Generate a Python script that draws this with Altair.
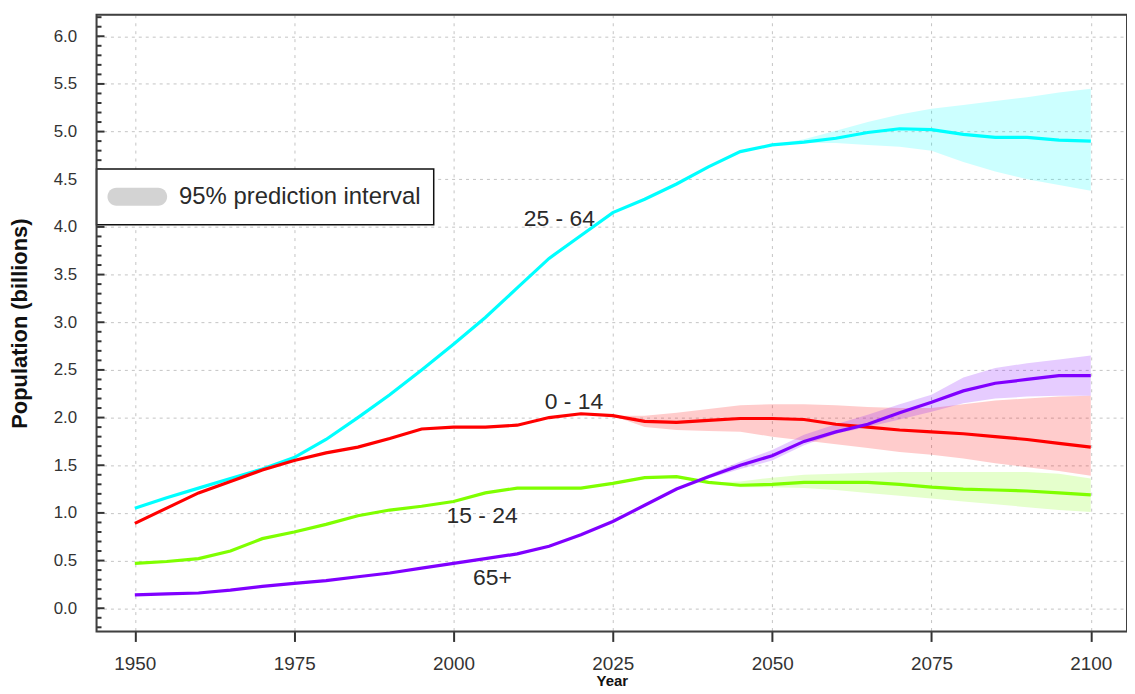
import altair as alt
import pandas as pd

# ---- data (billions) ----
years = list(range(1950, 2101, 5))

pop_25_64 = [1.05, 1.16, 1.26, 1.36, 1.46, 1.58, 1.77, 2.00, 2.24, 2.50,
             2.77, 3.05, 3.36, 3.67, 3.91, 4.15, 4.29, 4.45, 4.63, 4.79,
             4.86, 4.89, 4.93, 4.99, 5.03, 5.02, 4.97, 4.94, 4.94, 4.91, 4.90]
pop_0_14 = [0.89, 1.05, 1.21, 1.33, 1.45, 1.55, 1.63, 1.69, 1.78, 1.88,
            1.90, 1.90, 1.92, 2.00, 2.04, 2.02, 1.96, 1.95, 1.97, 1.99,
            1.99, 1.98, 1.93, 1.90, 1.87, 1.85, 1.83, 1.80, 1.77, 1.73, 1.69]
pop_15_24 = [0.47, 0.49, 0.52, 0.60, 0.73, 0.80, 0.88, 0.97, 1.03, 1.07,
             1.12, 1.21, 1.26, 1.26, 1.26, 1.31, 1.37, 1.38, 1.32, 1.29,
             1.30, 1.32, 1.32, 1.32, 1.30, 1.27, 1.25, 1.24, 1.23, 1.21, 1.19]
pop_65 = [0.14, 0.15, 0.16, 0.19, 0.23, 0.26, 0.29, 0.33, 0.37, 0.42,
          0.47, 0.52, 0.57, 0.65, 0.77, 0.91, 1.08, 1.25, 1.38, 1.50,
          1.60, 1.75, 1.85, 1.93, 2.05, 2.16, 2.28, 2.36, 2.40, 2.44, 2.44]

# 95% prediction intervals
band_25_64_years = list(range(2050, 2101, 5))
band_25_64_hi = [4.86, 4.92, 5.01, 5.10, 5.18, 5.24, 5.28, 5.32, 5.36, 5.41, 5.45]
band_25_64_lo = [4.86, 4.88, 4.88, 4.86, 4.84, 4.80, 4.68, 4.58, 4.50, 4.44, 4.38]

band_0_14_years = list(range(2025, 2101, 5))
band_0_14_hi = [2.02, 2.02, 2.05, 2.09, 2.13, 2.14, 2.14, 2.13, 2.11, 2.10, 2.10, 2.14, 2.18, 2.20, 2.22, 2.23]
band_0_14_lo = [2.02, 1.90, 1.87, 1.86, 1.85, 1.80, 1.76, 1.72, 1.68, 1.64, 1.61, 1.57, 1.52, 1.48, 1.44, 1.39]

band_15_24_years = list(range(2040, 2101, 5))
band_15_24_hi = [1.32, 1.33, 1.37, 1.40, 1.41, 1.42, 1.43, 1.43, 1.43, 1.43, 1.43, 1.41, 1.36]
band_15_24_lo = [1.32, 1.27, 1.27, 1.26, 1.24, 1.21, 1.18, 1.15, 1.12, 1.09, 1.06, 1.03, 1.01]

band_65_years = list(range(2035, 2101, 5))
band_65_hi = [1.25, 1.40, 1.54, 1.66, 1.82, 1.93, 2.03, 2.14, 2.24, 2.42, 2.52, 2.57, 2.61, 2.65]
band_65_lo = [1.25, 1.36, 1.46, 1.55, 1.71, 1.83, 1.90, 1.98, 2.06, 2.15, 2.20, 2.22, 2.23, 2.23]

groups = ["25 - 64", "0 - 14", "15 - 24", "65+"]
colors = ["#00FFFF", "#FF0000", "#7FFF00", "#8000FF"]

label_text = ["25 - 64", "0 - 14", "15 - 24", "65+"]
label_year = [2016.6, 2018.9, 2004.5, 2006.1]
label_value = [4.08, 2.16, 0.97, 0.32]

x_ticks = [1950, 1975, 2000, 2025, 2050, 2075, 2100]
y_ticks = [0.0, 0.5, 1.0, 1.5, 2.0, 2.5, 3.0, 3.5, 4.0, 4.5, 5.0, 5.5, 6.0]
y_minor = [round(-0.2 + 0.1 * i, 1) for i in range(65)]

# ---- tables ----
lines_df = pd.concat([
    pd.DataFrame({"year": years, "value": vals, "group": g})
    for g, vals in zip(groups, [pop_25_64, pop_0_14, pop_15_24, pop_65])
])
bands_df = pd.concat([
    pd.DataFrame({"year": yrs, "lo": lo, "hi": hi, "group": g})
    for g, yrs, lo, hi in [
        ("25 - 64", band_25_64_years, band_25_64_lo, band_25_64_hi),
        ("0 - 14", band_0_14_years, band_0_14_lo, band_0_14_hi),
        ("15 - 24", band_15_24_years, band_15_24_lo, band_15_24_hi),
        ("65+", band_65_years, band_65_lo, band_65_hi),
    ]
])
labels_df = pd.DataFrame({"year": label_year, "value": label_value, "text": label_text})
minor_df = pd.DataFrame({"t": [v for v in y_minor if round(v * 10) % 5 != 0]})
major_df = pd.DataFrame({"t": [v for v in y_minor if round(v * 10) % 5 == 0]})
one = pd.DataFrame({"a": [0]})

W, H = 1036, 620
xscale = alt.Scale(domain=[1943.99, 2105.68], nice=False, zero=False)
yscale = alt.Scale(domain=[-0.244, 6.225], nice=False, zero=False)
cscale = alt.Scale(domain=groups, range=colors)

tick_font = "Liberation Sans Narrow, Liberation Sans, Arial, sans-serif"
xaxis = alt.Axis(values=x_ticks, format="d", title="Year", grid=True,
                 gridDash=[3, 5], gridColor="#c4c4c4", gridWidth=1,
                 ticks=True, tickSize=10, tickWidth=2, tickColor="#333",
                 labelFont=tick_font, labelFontSize=19, labelColor="#333",
                 labelPadding=13, titleFont="Liberation Sans", titleFontSize=15,
                 titleFontWeight="bold", titleColor="#111", titlePadding=0,
                 domain=False)
yaxis = alt.Axis(values=y_ticks, format=".1f", title="Population (billions)", grid=True,
                 gridDash=[3, 4], gridColor="#c4c4c4", gridWidth=1,
                 ticks=False, labelFont=tick_font, labelFontSize=17,
                 labelColor="#333", labelPadding=20,
                 titleFont="Liberation Sans", titleFontSize=22, titleFontWeight="bold",
                 titleColor="#111", titlePadding=22, domain=False)

X = alt.X("year:Q", scale=xscale, axis=xaxis)

bands = alt.Chart(bands_df).mark_area(opacity=0.2).encode(
    x=X,
    y=alt.Y("lo:Q", scale=yscale, axis=yaxis),
    y2="hi:Q",
    color=alt.Color("group:N", scale=cscale, legend=None),
    detail="group:N",
)

lines = alt.Chart(lines_df).mark_line(strokeWidth=3.2).encode(
    x=X,
    y=alt.Y("value:Q", scale=yscale, axis=yaxis),
    color=alt.Color("group:N", scale=cscale, legend=None),
    detail="group:N",
)

labels = alt.Chart(labels_df).mark_text(
    font="Liberation Sans", fontSize=23, color="#2a2a2a", align="center", baseline="middle"
).encode(
    x=X,
    y=alt.Y("value:Q", scale=yscale, axis=yaxis),
    text="text:N",
)

minor_ticks = alt.Chart(minor_df).mark_rule(color="#333", strokeWidth=2).encode(
    y=alt.Y("t:Q", scale=yscale, axis=yaxis),
    x=alt.value(0), x2=alt.value(5),
)
major_ticks = alt.Chart(major_df).mark_rule(color="#333", strokeWidth=2).encode(
    y=alt.Y("t:Q", scale=yscale, axis=yaxis),
    x=alt.value(0), x2=alt.value(8),
)

frame = alt.Chart(one).mark_rect(fillOpacity=0, stroke="#404040", strokeWidth=2).encode(
    x=alt.value(0), x2=alt.value(W), y=alt.value(0), y2=alt.value(H)
)

legend_box = alt.Chart(one).mark_rect(fill="white", stroke="#111", strokeWidth=1.5).encode(
    x=alt.value(0), x2=alt.value(339), y=alt.value(155), y2=alt.value(211)
)
legend_pill = alt.Chart(one).mark_rect(fill="#d3d3d3", cornerRadius=9).encode(
    x=alt.value(11), x2=alt.value(71), y=alt.value(174), y2=alt.value(192)
)
legend_text = alt.Chart(one).mark_text(
    font="Liberation Sans", fontSize=24, color="#2a2a2a", align="left", baseline="middle"
).encode(x=alt.value(83), y=alt.value(183), text=alt.value("95% prediction interval"))

chart = alt.layer(
    bands, lines, labels, minor_ticks, major_ticks, legend_box, legend_pill, legend_text, frame
).properties(
    width=W, height=H,
    autosize=alt.AutoSizeParams(type="none"),
    padding={"left": 89, "top": 5, "right": 0, "bottom": 61},
).configure_view(
    stroke=None
).configure(background="white")

chart.save("out.html", embed_options={"renderer": "svg", "actions": False})
